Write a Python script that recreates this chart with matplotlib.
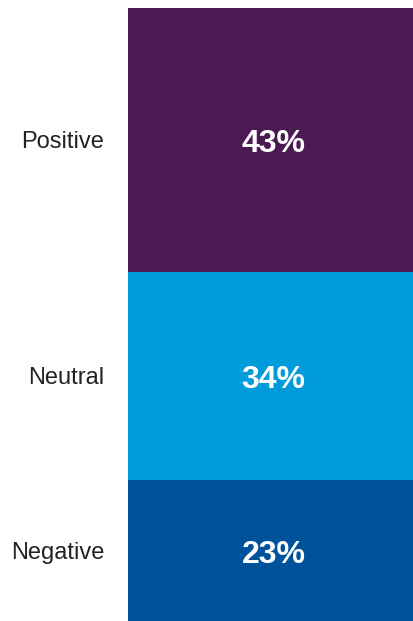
import matplotlib.pyplot as plt

# --- data ---
categories = ["Negative", "Neutral", "Positive"]
shares = [23, 34, 43]
colors = ["#00529B", "#009BDB", "#4B1A52"]

plt.rcParams['font.family'] = ['Liberation Sans', 'DejaVu Sans']

fig = plt.figure(figsize=(4.14, 6.21), dpi=100)
ax = fig.add_axes([128 / 414, 0, 1 - 128 / 414, 613 / 621])

bottom = 0
centers = []
for cat, val, col in zip(categories, shares, colors):
    ax.bar(0, val, bottom=bottom, width=1, color=col, linewidth=0)
    mid = bottom + val / 2
    centers.append(mid)
    # label sits a touch right of and below the segment centre in the original
    ax.annotate(f"{val}%", (0, mid), xytext=(2, -3), textcoords="offset points",
                color="white", fontsize=23, fontweight="bold",
                ha="center", va="center")
    bottom += val

ax.set_xlim(-0.5, 0.5)
ax.set_ylim(0, sum(shares))
ax.set_xticks([])
ax.set_yticks(centers)
ax.set_yticklabels(categories, fontsize=17, color="#222222")
ax.tick_params(axis="y", length=0, pad=17)
for s in ax.spines.values():
    s.set_visible(False)

fig.savefig("out.png", dpi=100)
